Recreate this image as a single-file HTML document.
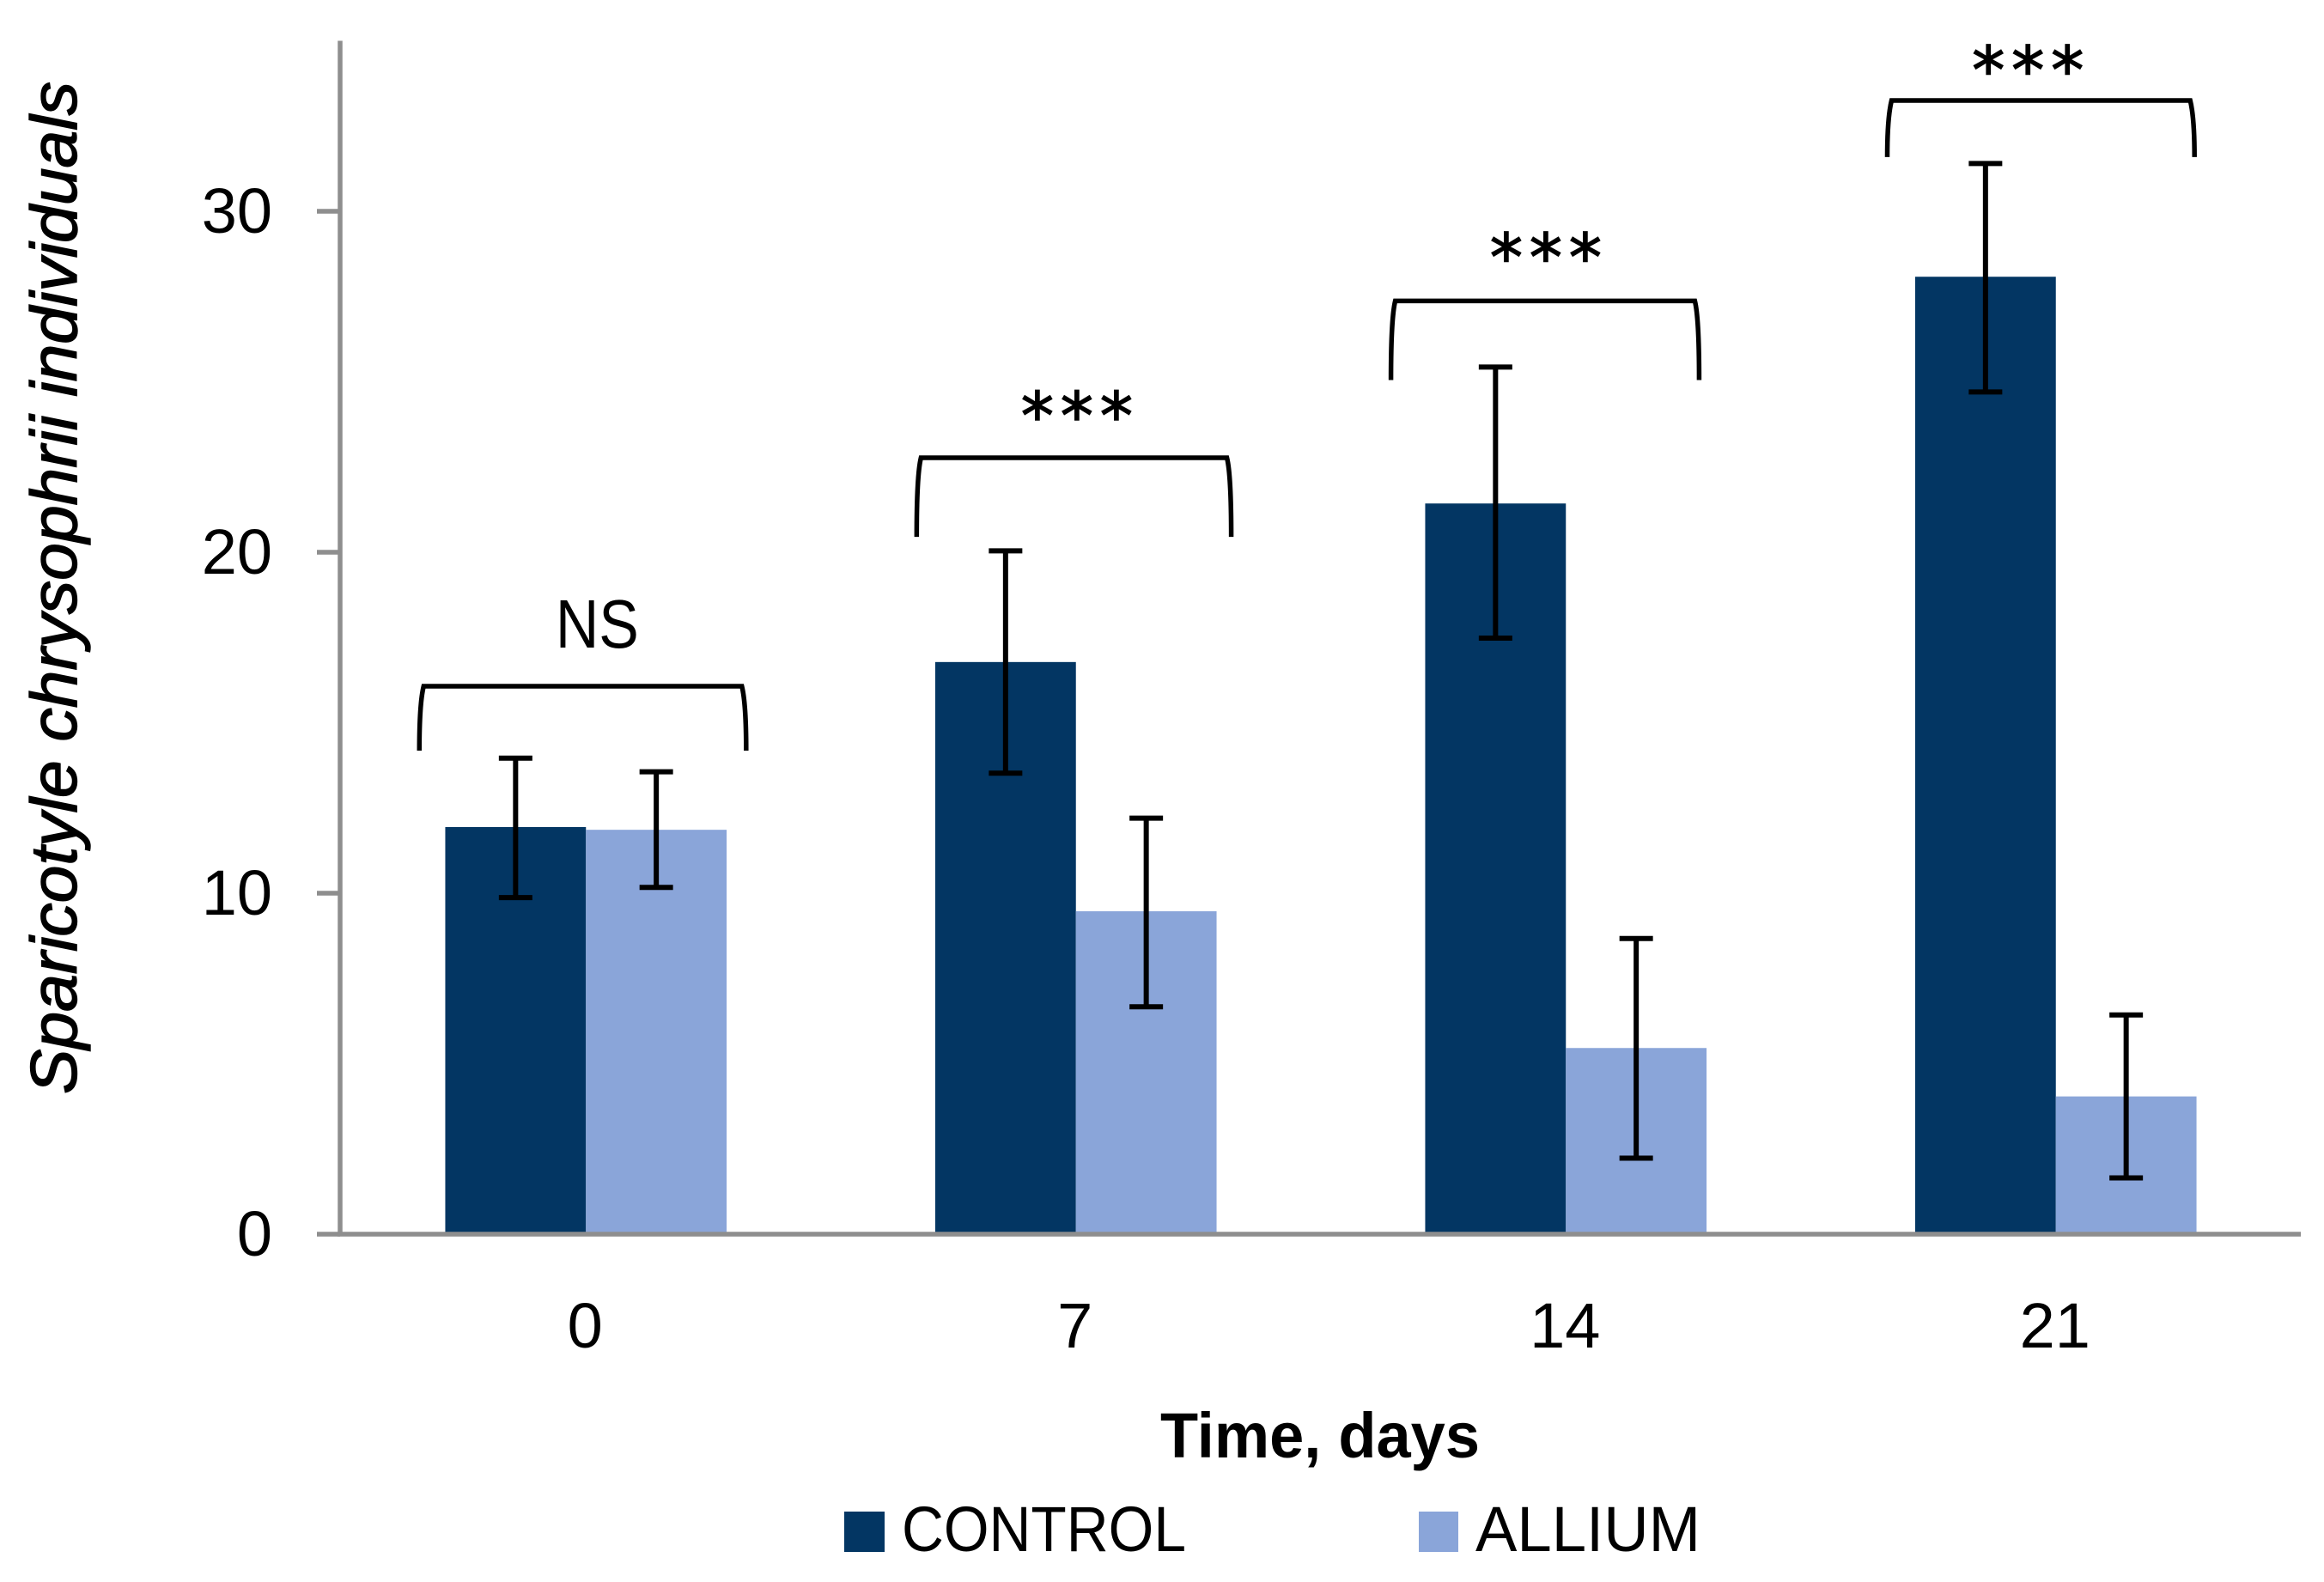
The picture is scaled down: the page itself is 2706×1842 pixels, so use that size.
<!DOCTYPE html>
<html>
<head>
<meta charset="utf-8">
<title>Sparicotyle chrysophrii individuals over time</title>
<style>
html,body{margin:0;padding:0;background:#fff;}
svg{display:block;}
text{font-family:"Liberation Sans",sans-serif;fill:#000;}
</style>
</head>
<body>
<svg id="chart" xmlns="http://www.w3.org/2000/svg" width="2706" height="1842" viewBox="0 0 2706 1842">
<rect x="0" y="0" width="2706" height="1842" fill="#ffffff"/>
<text transform="translate(89,1274) rotate(-90)" font-size="76" font-style="italic" stroke="#000" stroke-width="1.4" textLength="1179" lengthAdjust="spacingAndGlyphs">Sparicotyle chrysophrii individuals</text>
<text x="1351" y="1697" font-size="74" font-weight="bold" textLength="372" lengthAdjust="spacingAndGlyphs">Time, days</text>
<rect x="983" y="1760" width="47" height="47" fill="#033663"/>
<text x="1050" y="1806" font-size="74" textLength="331" lengthAdjust="spacingAndGlyphs">CONTROL</text>
<rect x="1652" y="1760" width="46" height="47" fill="#8aa5d9"/>
<text x="1718" y="1806" font-size="74" textLength="262" lengthAdjust="spacingAndGlyphs">ALLIUM</text>
</svg>
<script>
const categories = ['0', '7', '14', '21'];
const yTicks = [0, 10, 20, 30];
const controlValues = [11.94, 16.78, 21.43, 28.08];
const controlErrTop = [13.96, 20.04, 25.43, 31.4];
const controlErrBottom = [9.87, 13.52, 17.48, 24.7];
const alliumValues = [11.86, 9.47, 5.46, 4.04];
const alliumErrTop = [13.56, 12.2, 8.67, 6.43];
const alliumErrBottom = [10.17, 6.67, 2.23, 1.65];
const sigLabels = ['NS', '***', '***', '***'];
const bracketTops = [16.07, 22.77, 27.37, 33.25];
const bracketDrops = [1.89, 2.32, 2.32, 1.66];
const bracketStart = [-0.34, -0.325, -0.357, -0.344];
const bracketEnd = [0.327, 0.317, 0.272, 0.283];
const sigLabelCenters = [0.023, 0.009, -0.034, -0.05];
const sigLabelBaselines = [17.2, 23.34, 27.99, 33.48];

const svgNS = 'http://www.w3.org/2000/svg';
const svg = document.getElementById('chart');
const plotLeft = 397, plotWidth = 2282, zeroY = 1437, pxPerUnit = 39.7, yMax = 35;
const barW = 163.8;
const y = v => zeroY - v * pxPerUnit;
const x = i => plotLeft + (i + 0.5) * plotWidth / categories.length;
function mk(tag, attrs) {
  const el = document.createElementNS(svgNS, tag);
  for (const k in attrs) el.setAttribute(k, attrs[k]);
  svg.appendChild(el);
  return el;
}

categories.forEach((c, i) => {
  const b1 = mk('rect', {x: x(i) - barW, y: y(controlValues[i]), width: barW, height: zeroY - y(controlValues[i]), fill: '#033663'});
  
  
  const b2 = mk('rect', {x: x(i), y: y(alliumValues[i]), width: barW, height: zeroY - y(alliumValues[i]), fill: '#8aa5d9'});
  
  
});

const yAxis = mk('line', {x1: 396, x2: 396, y1: y(yMax), y2: zeroY + 2.5, stroke: '#8e8e8e', 'stroke-width': 5.5});


const xAxis = mk('line', {x1: 393, x2: 2679, y1: zeroY, y2: zeroY, stroke: '#8e8e8e', 'stroke-width': 5.5});



yTicks.forEach(t => {
  const tick = mk('line', {x1: 369, x2: 396, y1: y(t), y2: y(t), stroke: '#8e8e8e', 'stroke-width': 5.5});
  
  
  const lbl = mk('text', {x: 317, y: y(t) + 25, 'text-anchor': 'end', 'font-size': 74});
  lbl.textContent = String(t);
  
  
});

categories.forEach((c, i) => {
  const lbl = mk('text', {x: x(i) - 1, y: 1569, 'text-anchor': 'middle', 'font-size': 74});
  lbl.textContent = c;
  
  
});

function errorBar(cx, top, bottom, name) {
  const g = document.createElementNS(svgNS, 'g');
  g.setAttribute('stroke', '#000');
  g.setAttribute('stroke-width', '6');
  g.setAttribute('fill', 'none');
  
  
  const d = 'M' + cx + ' ' + y(top) + 'V' + y(bottom) +
    'M' + (cx - 19.5) + ' ' + y(top) + 'H' + (cx + 19.5) +
    'M' + (cx - 19.5) + ' ' + y(bottom) + 'H' + (cx + 19.5);
  const p = document.createElementNS(svgNS, 'path');
  p.setAttribute('d', d);
  g.appendChild(p);
  svg.appendChild(g);
}
categories.forEach((c, i) => {
  errorBar(x(i) - barW / 2, controlErrTop[i], controlErrBottom[i], 'error-bar-control-day-' + c);
  errorBar(x(i) + barW / 2, alliumErrTop[i], alliumErrBottom[i], 'error-bar-allium-day-' + c);
});

categories.forEach((c, i) => {
  const l = x(i + bracketStart[i]);
  const r = x(i + bracketEnd[i]);
  const t = y(bracketTops[i]);
  const b = y(bracketTops[i] - bracketDrops[i]);
  const br = mk('path', {
    d: 'M' + l + ' ' + b + 'C' + l + ' ' + (t + (b - t) * 0.45) + ' ' + (l + 2) + ' ' + (t + 12) + ' ' + (l + 5) + ' ' + t +
       'H' + (r - 5) + 'C' + (r - 2) + ' ' + (t + 12) + ' ' + r + ' ' + (t + (b - t) * 0.45) + ' ' + r + ' ' + b,
    fill: 'none', stroke: '#000', 'stroke-width': 5.5
  });
  
  
  const labelX = x(i + sigLabelCenters[i]);
  const labelY = y(sigLabelBaselines[i]);
  const isNS = sigLabels[i] === 'NS';
  const txt = mk('text', isNS
    ? {x: labelX, y: labelY, 'text-anchor': 'middle', 'font-size': 80, textLength: 97, lengthAdjust: 'spacingAndGlyphs'}
    : {x: labelX, y: labelY, 'text-anchor': 'middle', 'font-size': 76, 'letter-spacing': 8, stroke: '#000', 'stroke-width': 1.5, style: 'font-family:"DejaVu Sans",sans-serif'});
  txt.textContent = sigLabels[i];
  
  
});
</script>
</body>
</html>
